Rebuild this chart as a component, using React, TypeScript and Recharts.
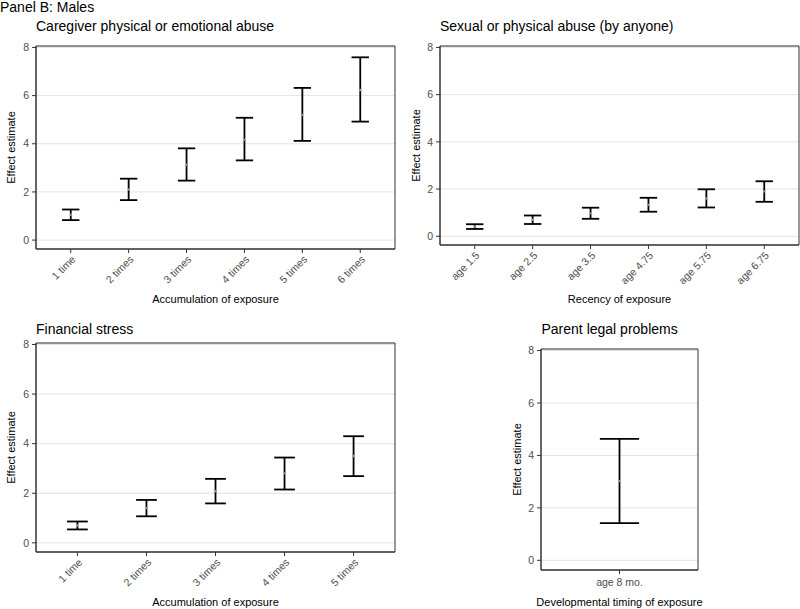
import React from 'react';
import { ScatterChart, Scatter, XAxis, YAxis, CartesianGrid, ErrorBar, ReferenceArea } from 'recharts';

// caregiver abuse (accumulation)
const abuseCats = ['1 time', '2 times', '3 times', '4 times', '5 times', '6 times'];
const abuseEst = [1.05, 2.1, 3.13, 4.17, 5.2, 6.23];
const abuseLo = [0.83, 1.66, 2.47, 3.31, 4.12, 4.92];
const abuseHi = [1.27, 2.55, 3.81, 5.08, 6.32, 7.59];

// sexual or physical abuse (recency)
const sexCats = ['age 1.5', 'age 2.5', 'age 3.5', 'age 4.75', 'age 5.75', 'age 6.75'];
const sexEst = [0.41, 0.7, 0.97, 1.33, 1.6, 1.9];
const sexLo = [0.31, 0.52, 0.74, 1.04, 1.22, 1.46];
const sexHi = [0.51, 0.88, 1.21, 1.63, 1.99, 2.33];

// financial stress (accumulation)
const finCats = ['1 time', '2 times', '3 times', '4 times', '5 times'];
const finEst = [0.7, 1.4, 2.08, 2.8, 3.5];
const finLo = [0.54, 1.07, 1.59, 2.15, 2.69];
const finHi = [0.86, 1.73, 2.58, 3.44, 4.3];

// parent legal problems (timing)
const legalCats = ['age 8 mo.'];
const legalEst = [3.02];
const legalLo = [1.42];
const legalHi = [4.63];

const yTicks = [0, 2, 4, 6, 8];
const yDomain: [number, number] = [-0.37, 8.06];

const FONT = '"Liberation Sans", Arial, sans-serif';
const TICK_FS = 10.5;

const XTick = (props: any) => {
  const { x, y, payload, labels, rotate } = props;
  const label = labels[Math.round(payload.value) - 1];
  if (rotate) {
    const ax = x + 5.5;
    const ay = y + 5;
    return (
      <text x={ax} y={ay} transform={`rotate(-45 ${ax} ${ay})`} textAnchor="end" fontSize={TICK_FS} fill="#4d4d4d">
        {label}
      </text>
    );
  }
  return (
    <text x={x} y={y + 10} textAnchor="middle" fontSize={TICK_FS} fill="#4d4d4d">
      {label}
    </text>
  );
};

const dot = (p: any) => <circle cx={p.cx} cy={p.cy} r={1.2} fill="#9a9a9a" />;

function Panel(props: any) {
  const { cats, est, lo, hi, L, T, R, B, rotate } = props;
  const n = cats.length;
  const data = cats.map((c: string, i: number) => ({
    x: i + 1,
    est: est[i],
    err: [est[i] - lo[i], hi[i] - est[i]],
  }));
  const yw = 36, mt = 6, mr = 1, xh = 50;
  const plotW = R - L;
  const W = yw + plotW + mr;
  const H = mt + (B - T) + xh + 2;
  const unit = plotW / (n + 0.2);
  const xTicks = cats.map((c: string, i: number) => i + 1);

  return (
    <div style={{ position: 'absolute', left: L - yw, top: T - mt }}>
      <ScatterChart width={W} height={H} margin={{ top: mt, right: mr, bottom: 2, left: 0 }}>
        <CartesianGrid vertical={false} stroke="#e3e3e3" />
        <XAxis
          type="number"
          dataKey="x"
          domain={[0.4, n + 0.6]}
          ticks={xTicks}
          interval={0}
          allowDataOverflow
          height={xh}
          tickSize={4}
          stroke="#333"
          tick={(p: any) => <XTick {...p} labels={cats} rotate={rotate} />}
        />
        <YAxis
          type="number"
          dataKey="est"
          domain={yDomain}
          ticks={yTicks}
          interval={0}
          allowDataOverflow
          width={yw}
          tickSize={4}
          tickMargin={3}
          stroke="#333"
          tick={{ fill: '#4d4d4d', fontSize: TICK_FS }}
        />
        <ReferenceArea
          x1={0.4}
          x2={n + 0.6}
          y1={yDomain[0]}
          y2={yDomain[1]}
          fill="none"
          stroke="#333"
          ifOverflow="visible"
        />
        <Scatter data={data} isAnimationActive={false} shape={dot}>
          <ErrorBar
            dataKey="err"
            direction="y"
            width={unit * 0.15}
            stroke="#000"
            strokeWidth={1.8}
            isAnimationActive={false}
          />
        </Scatter>
      </ScatterChart>
    </div>
  );
}

export default function App() {
  return (
    <div
      style={{
        position: 'absolute',
        left: 0,
        top: 0,
        width: 800,
        height: 609,
        overflow: 'hidden',
        background: '#fff',
        fontFamily: FONT,
      }}
    >
      <Panel cats={abuseCats} est={abuseEst} lo={abuseLo} hi={abuseHi} L={36} T={46} R={395} B={249} rotate />
      <Panel cats={sexCats} est={sexEst} lo={sexLo} hi={sexHi} L={440} T={46} R={799} B={245} rotate />
      <Panel cats={finCats} est={finEst} lo={finLo} hi={finHi} L={36} T={343} R={395} B={552} rotate />
      <Panel cats={legalCats} est={legalEst} lo={legalLo} hi={legalHi} L={541} T={349} R={698} B={570} rotate={false} />

      <svg
        width={800}
        height={609}
        style={{ position: 'absolute', left: 0, top: 0, pointerEvents: 'none', fontFamily: FONT }}
      >
        <text x={0} y={11.5} fontSize={14} fill="#000">Panel B: Males</text>

        <text x={36} y={31} fontSize={14} fill="#000">Caregiver physical or emotional abuse</text>
        <text x={440} y={31} fontSize={14} fill="#000">Sexual or physical abuse (by anyone)</text>
        <text x={36} y={333.5} fontSize={14} fill="#000">Financial stress</text>
        <text x={541.5} y={333.5} fontSize={14} fill="#000">Parent legal problems</text>

        <text x={215.5} y={303} fontSize={11} textAnchor="middle" fill="#000">Accumulation of exposure</text>
        <text x={619.5} y={303} fontSize={11} textAnchor="middle" fill="#000">Recency of exposure</text>
        <text x={215.5} y={606} fontSize={11} textAnchor="middle" fill="#000">Accumulation of exposure</text>
        <text x={619.5} y={606} fontSize={11} textAnchor="middle" fill="#000">Developmental timing of exposure</text>

        <text x={15} y={147.5} fontSize={11} textAnchor="middle" transform="rotate(-90 15 147.5)" fill="#000">Effect estimate</text>
        <text x={419.5} y={145.5} fontSize={11} textAnchor="middle" transform="rotate(-90 419.5 145.5)" fill="#000">Effect estimate</text>
        <text x={15} y={447.5} fontSize={11} textAnchor="middle" transform="rotate(-90 15 447.5)" fill="#000">Effect estimate</text>
        <text x={520.5} y={459.5} fontSize={11} textAnchor="middle" transform="rotate(-90 520.5 459.5)" fill="#000">Effect estimate</text>
      </svg>
    </div>
  );
}
